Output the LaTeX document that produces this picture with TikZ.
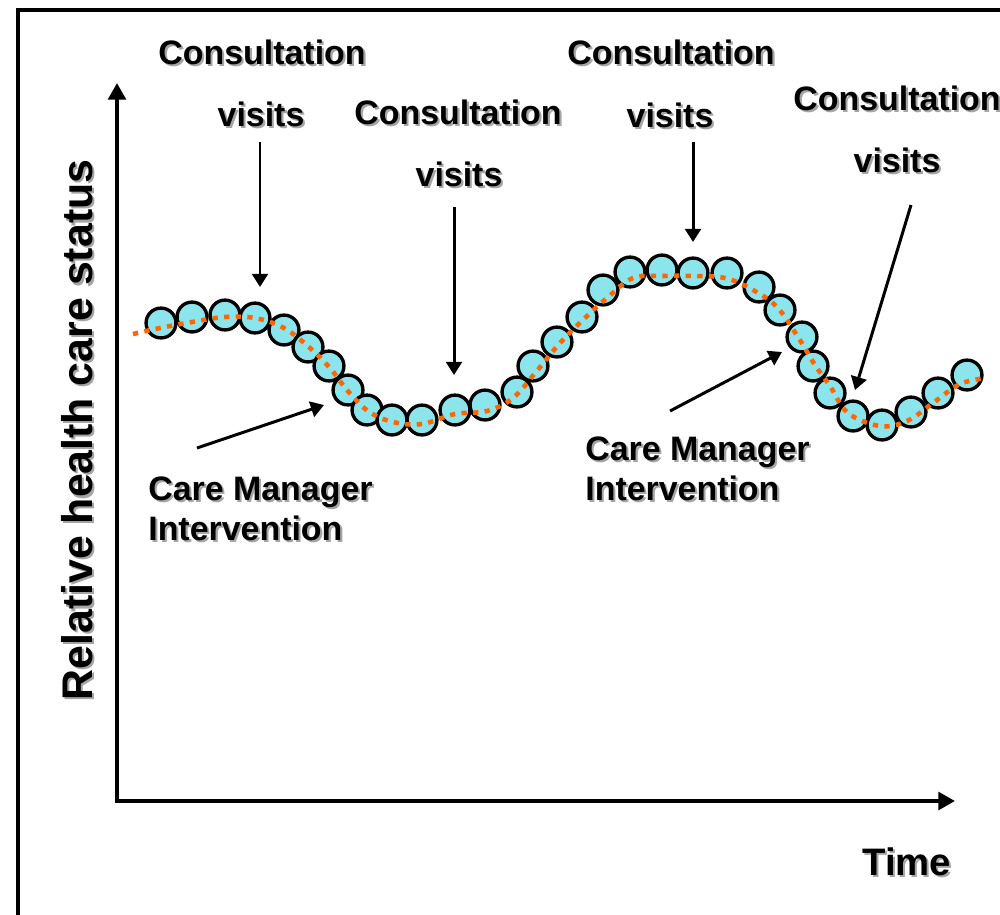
\documentclass[tikz,border=0pt]{standalone}
\usepackage{fontspec}
\setmainfont{Liberation Sans}
\usetikzlibrary{arrows.meta}
\definecolor{beadfill}{RGB}{140,228,236}
\definecolor{trendorange}{RGB}{255,102,0}
\definecolor{shadowgray}{RGB}{165,165,165}
\newcommand\shtxt[1]{\rlap{\kern1.2pt\raisebox{-1.2pt}{\textcolor{shadowgray}{#1}}}#1}
\newcommand\shtxtrot[1]{\rlap{\kern-1.2pt\raisebox{-1.2pt}{\textcolor{shadowgray}{#1}}}#1}

\begin{document}
\begin{tikzpicture}[x=0.02cm,y=-0.02cm,
  lbl/.style={font=\fontsize{19.3}{23}\selectfont\bfseries,inner sep=0pt},
  bead/.style={circle,draw,line width=1.9pt,fill=beadfill,minimum size=17pt,inner sep=0pt},
  trend/.style={trendorange,line width=2.6pt,dash pattern=on 3pt off 3.6pt},
  pointer/.style={-{Triangle[length=7.5pt,width=9pt]},line width=1.7pt},
  axis/.style={{Triangle[length=9.5pt,width=10pt]}-{Triangle[length=9.5pt,width=10pt]},line width=2.8pt}]
  \useasboundingbox (0,0) rectangle (1000,914);
  \clip (0,0) rectangle (1000,914);
  \draw[line width=1.9pt] (18,10) rectangle (1020,940);

  \coordinate (ytip) at (117,83);
  \coordinate (origin) at (117,801);
  \coordinate (xtip) at (955,801);
  \draw[axis] (ytip) -- (origin) -- (xtip);

  \node[lbl,anchor=base,rotate=90,font=\fontsize{24.4}{28}\selectfont\bfseries] (ylabel) at (92,430) {\shtxtrot{Relative health care status}};
  \node[lbl,anchor=base west,font=\fontsize{21.8}{26}\selectfont\bfseries] (xlabel) at (862,875) {\shtxt{Time}};

  \foreach \x/\y [count=\i] in {161/323,192/317,225/315,255/318,284/330,308/347,329/366,348/390,
    367/410,392/420,422/420,455/410,485/405,517/392,533/366,557/342,582/317,603/290,630/272,
    662/270,693/273,727/273,759/287,780/310,802/337,813/366,830/393,853/416,882/425,911/412,
    938/393,967/375}
    \node[bead] (b\i) at (\x,\y) {};

  \draw[trend] plot[smooth,tension=0.6] coordinates {(133,334) (160,328) (192,322) (225,317)
    (255,318) (284,328) (310,348) (330,368) (347,390) (368,411) (393,422) (422,424) (455,414)
    (487,411) (513,398) (536,372) (560,343) (587,316) (607,298) (633,278) (663,276) (693,276)
    (725,278) (753,290) (777,307) (798,337) (815,365) (830,386) (848,413) (880,426) (907,421)
    (933,403) (960,384) (986,378)};

  \node[lbl,anchor=base] (c1) at (262,64) {\shtxt{Consultation}};
  \node[lbl,anchor=base] (v1) at (261,126) {\shtxt{visits}};
  \node[lbl,anchor=base] (c2) at (458,124) {\shtxt{Consultation}};
  \node[lbl,anchor=base] (v2) at (459,186) {\shtxt{visits}};
  \node[lbl,anchor=base] (c3) at (671,64) {\shtxt{Consultation}};
  \node[lbl,anchor=base] (v3) at (670,127) {\shtxt{visits}};
  \node[lbl,anchor=base] (c4) at (897,110) {\shtxt{Consultation}};
  \node[lbl,anchor=base] (v4) at (897,172) {\shtxt{visits}};
  \node[lbl,anchor=north west,align=left] (cm1) at (148,476) {\shtxt{Care Manager}\\\shtxt{Intervention}};
  \node[lbl,anchor=north west,align=left] (cm2) at (585,436) {\shtxt{Care Manager}\\\shtxt{Intervention}};

  \coordinate (s1) at (260,142);
  \coordinate (t1) at (260,287);
  \coordinate (s2) at (454,207);
  \coordinate (t2) at (454,375);
  \coordinate (s3) at (693,142);
  \coordinate (t3) at (693,242);
  \coordinate (s4) at (911,205);
  \coordinate (t4) at (855,390);
  \coordinate (s5) at (197,448);
  \coordinate (t5) at (324,405);
  \coordinate (s6) at (670,411);
  \coordinate (t6) at (782,352);
  \draw[pointer] (s1) -- (t1);
  \draw[pointer] (s2) -- (t2);
  \draw[pointer] (s3) -- (t3);
  \draw[pointer] (s4) -- (t4);
  \draw[pointer] (s5) -- (t5);
  \draw[pointer] (s6) -- (t6);
\end{tikzpicture}
\end{document}
